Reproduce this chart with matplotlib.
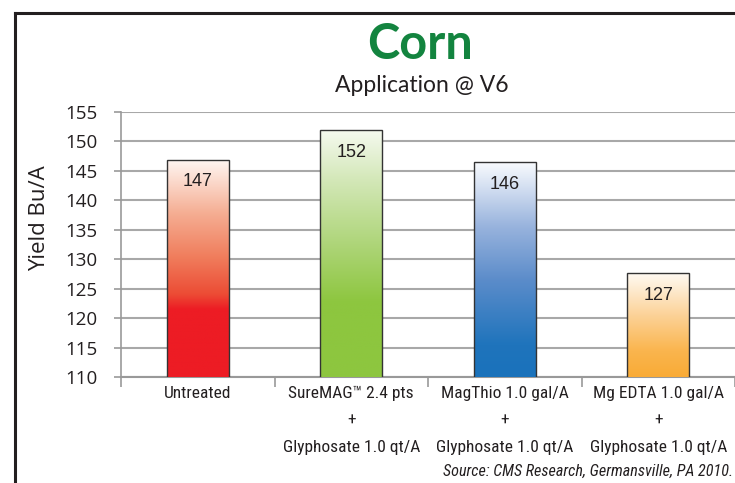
import numpy as np
import matplotlib
matplotlib.use('Agg')
import matplotlib.pyplot as plt
from matplotlib import font_manager
from matplotlib.colors import LinearSegmentedColormap
from matplotlib.lines import Line2D

# data
categories = ['Untreated',
              'SureMAG\u2122 2.4 pts\n+\nGlyphosate 1.0 qt/A',
              'MagThio 1.0 gal/A\n+\nGlyphosate 1.0 qt/A',
              'Mg EDTA 1.0 gal/A\n+\nGlyphosate 1.0 qt/A']
yields = [146.9, 151.9, 146.4, 127.7]
value_labels = ['147', '152', '146', '127']
yticks = [110, 115, 120, 125, 130, 135, 140, 145, 150, 155]

# gradient stops for each bar (bottom -> top)
bar_grads = [
    [(0.0, '#ed1c24'), (0.31, '#ed1c24'), (0.38, '#ec4c35'), (0.55, '#f07d5c'),
     (0.75, '#f5ad92'), (1.0, '#fff7f3')],
    [(0.0, '#8dc63f'), (0.3, '#8dc63f'), (0.55, '#b0d67c'), (0.8, '#d4e8b9'),
     (1.0, '#f6faf0')],
    [(0.0, '#1a72bb'), (0.15, '#1f74bc'), (0.45, '#5b8cca'), (0.7, '#98b3dd'),
     (1.0, '#f9fbfe')],
    [(0.0, '#f9ab36'), (0.25, '#fab54e'), (0.6, '#fcd39a'), (1.0, '#fffbf5')],
]

# narrow font for the category labels, Lato if none is there
installed = set(f.name for f in font_manager.fontManager.ttflist)
narrow = 'Lato'
for name in ['Roboto Condensed', 'PT Sans Narrow', 'Open Sans Condensed', 'Liberation Sans Narrow']:
    if name in installed:
        narrow = name
        break
lab_size = 12.5 if narrow != 'Lato' else 11

fig = plt.figure(figsize=(7.35, 4.83), dpi=100)
ax = fig.add_axes([121 / 735, 1 - 377.3 / 483, 1 - 121 / 735, (377.3 - 111.7) / 483])

x = np.arange(len(categories))
width = 0.405
ymin = 110

bars = ax.bar(x, yields, width, color='none', edgecolor='#333333', linewidth=1.0, zorder=4)

ramp = np.linspace(0, 1, 256).reshape(-1, 1)
for i, b in enumerate(bars):
    cmap = LinearSegmentedColormap.from_list('g%d' % i, bar_grads[i])
    im = ax.imshow(ramp, cmap=cmap, origin='lower', aspect='auto', zorder=3,
                   extent=[x[i] - width / 2, x[i] + width / 2, ymin, yields[i]])
    im.set_clip_path(b)
    ax.text(x[i], yields[i] - 3.8, value_labels[i], ha='center', va='center',
            fontsize=13, family='Liberation Sans', color='#231f20', zorder=5)

ax.set_xlim(-0.5, len(categories) - 0.5)
ax.set_ylim(ymin, 155)
ax.set_yticks(yticks)
ax.set_yticklabels([str(t) for t in yticks], fontsize=13.5, family='Open Sans', color='#231f20')
ax.yaxis.grid(True, color='#a8a8a8', linewidth=1.5)
ax.set_axisbelow(True)
ax.tick_params(axis='y', length=5, color='#999999', width=1.2, pad=12)

ax.set_xticks(x)
ax.set_xticklabels(categories, fontsize=lab_size, family=narrow,
                   color='#231f20', linespacing=2.0)
ax.set_xticks(np.arange(-0.5, len(categories), 1), minor=True)
ax.tick_params(axis='x', which='major', length=0, pad=6)
ax.tick_params(axis='x', which='minor', length=7, color='#999999', width=1.2)

for s in ['top', 'right']:
    ax.spines[s].set_visible(False)
ax.spines['left'].set_color('#999999')
ax.spines['left'].set_linewidth(1.2)
ax.spines['bottom'].set_color('#999999')
ax.spines['bottom'].set_linewidth(1.5)

ax.set_ylabel('Yield Bu/A', fontsize=16, family='Open Sans', color='#231f20')
ax.yaxis.set_label_coords(-0.116, 0.60)

fig.text(0.572, 0.907, 'Corn', ha='center', va='center', fontsize=35,
         family='Lato', weight='bold', color='#13843f')
fig.text(0.574, 0.823, 'Application @ V6', ha='center', va='center', fontsize=16.5,
         family='Lato', color='#231f20')
fig.text(0.997, 0.024, 'Source: CMS Research, Germansville, PA 2010.', ha='right',
         va='center', fontsize=lab_size - 0.9, family=narrow, style='italic',
         color='#231f20')

# frame lines on left and top
fig.add_artist(Line2D([15.5 / 735, 15.5 / 735], [0, 1 - 12.5 / 483], color='#231f20', lw=2.2))
fig.add_artist(Line2D([15.5 / 735, 1], [1 - 12.5 / 483, 1 - 12.5 / 483], color='#231f20', lw=2.2))

fig.savefig('out.png', dpi=100)
